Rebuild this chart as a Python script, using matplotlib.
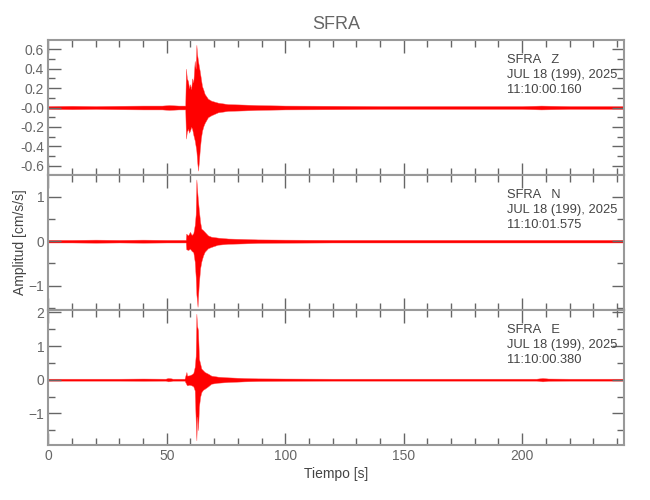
import matplotlib.pyplot as plt
from matplotlib.ticker import MultipleLocator

plt.rcParams["font.family"] = ["Liberation Sans", "DejaVu Sans"]

# envelope of each trace (time [s], upper, lower)
t_z = [0, 10, 20, 30, 40, 48, 51, 55, 57.8, 58.1, 58.5, 59.0, 59.4, 59.8, 60.3,
       60.7, 61.2, 61.8, 62.2, 62.5, 62.8, 63.2, 63.6, 63.9, 64.4, 64.9, 65.5,
       66.0, 67.4, 68.8, 71.6, 75.8, 82.8, 88.4, 100, 120, 140, 160, 180, 200,
       208, 220, 243]
up_z = [0.015, 0.018, 0.015, 0.018, 0.02, 0.02, 0.025, 0.02, 0.02, 0.40, 0.30,
        0.27, 0.20, 0.24, 0.19, 0.30, 0.26, 0.48, 0.40, 0.645, 0.55, 0.48, 0.42,
        0.38, 0.30, 0.22, 0.18, 0.14, 0.09, 0.07, 0.05, 0.035, 0.03, 0.025, 0.02,
        0.018, 0.015, 0.015, 0.015, 0.015, 0.02, 0.015, 0.015]
lo_z = [-0.015, -0.018, -0.015, -0.018, -0.02, -0.02, -0.025, -0.02, -0.02,
        -0.32, -0.25, -0.22, -0.26, -0.24, -0.20, -0.22, -0.28, -0.34, -0.40,
        -0.45, -0.55, -0.65, -0.55, -0.45, -0.32, -0.24, -0.19, -0.16, -0.10,
        -0.08, -0.05, -0.035, -0.03, -0.025, -0.02, -0.018, -0.015, -0.015,
        -0.015, -0.015, -0.02, -0.015, -0.015]

t_n = [0, 10, 20, 30, 40, 50, 55, 58.0, 58.2, 59.0, 59.8, 60.5, 61.2, 61.8,
       62.2, 62.5, 63.0, 63.5, 64.1, 64.6, 65.3, 66.0, 67.4, 68.8, 71.6, 75.8,
       82.8, 88.4, 100, 120, 140, 160, 180, 200, 220, 243]
up_n = [0.03, 0.03, 0.035, 0.03, 0.035, 0.03, 0.03, 0.03, 0.17, 0.13, 0.21,
        0.14, 0.18, 0.36, 0.60, 1.39, 1.03, 0.73, 0.43, 0.28, 0.25, 0.21, 0.13,
        0.10, 0.08, 0.06, 0.05, 0.04, 0.035, 0.03, 0.03, 0.03, 0.03, 0.03, 0.03,
        0.03]
lo_n = [-0.03, -0.03, -0.035, -0.03, -0.035, -0.03, -0.03, -0.03, -0.18, -0.20,
        -0.17, -0.22, -0.25, -0.46, -0.80, -1.20, -1.48, -0.99, -0.61, -0.46,
        -0.33, -0.24, -0.16, -0.13, -0.08, -0.06, -0.05, -0.04, -0.035, -0.03,
        -0.03, -0.03, -0.03, -0.03, -0.03, -0.03]

t_e = [0, 10, 20, 30, 40, 49.5, 50.5, 51.5, 52.5, 57.5, 58.3, 58.6, 59.5, 60.5,
       61.2, 61.8, 62.2, 62.5, 62.8, 63.2, 63.6, 64.1, 64.6, 65.3, 66.0, 67.4,
       68.8, 71.6, 75.8, 82.8, 88.4, 100, 120, 140, 160, 180, 200, 206, 208.6,
       211, 220, 243]
up_e = [0.03, 0.03, 0.03, 0.03, 0.035, 0.03, 0.05, 0.045, 0.03, 0.03, 0.23, 0.12,
        0.13, 0.16, 0.20, 0.38, 0.70, 1.96, 1.60, 1.47, 0.62, 0.48, 0.33, 0.28,
        0.23, 0.18, 0.12, 0.09, 0.07, 0.05, 0.04, 0.035, 0.03, 0.03, 0.03, 0.03,
        0.03, 0.03, 0.05, 0.035, 0.03, 0.03]
lo_e = [-0.03, -0.03, -0.03, -0.03, -0.035, -0.03, -0.05, -0.045, -0.03, -0.03,
        -0.14, -0.17, -0.15, -0.17, -0.20, -0.32, -1.20, -1.80, -1.10, -1.50,
        -0.80, -0.51, -0.37, -0.30, -0.27, -0.20, -0.12, -0.09, -0.07, -0.05,
        -0.04, -0.035, -0.03, -0.03, -0.03, -0.03, -0.03, -0.03, -0.05, -0.035,
        -0.03, -0.03]

components = ["Z", "N", "E"]
start_times = ["11:10:00.160", "11:10:01.575", "11:10:00.380"]
ylims = [(-0.695, 0.695), (-1.55, 1.49), (-1.94, 2.07)]
major_steps = [0.2, 1, 1]
minor_steps = [0.1, 0.5, 0.5]
traces = [(t_z, up_z, lo_z), (t_n, up_n, lo_n), (t_e, up_e, lo_e)]

grey = "#666666"
fig, axes = plt.subplots(3, 1, figsize=(6.5, 5), dpi=100, sharex=True)
fig.subplots_adjust(left=0.0743, right=0.96, top=0.92, bottom=0.11, hspace=0)

for i, ax in enumerate(axes):
    t, up, lo = traces[i]
    ax.fill_between(t, lo, up, color="red", lw=0.3, edgecolor="#ff5555")
    ax.set_xlim(0, 243)
    ax.set_ylim(*ylims[i])
    ax.xaxis.set_major_locator(MultipleLocator(50))
    ax.xaxis.set_minor_locator(MultipleLocator(10))
    ax.yaxis.set_major_locator(MultipleLocator(major_steps[i]))
    ax.yaxis.set_minor_locator(MultipleLocator(minor_steps[i]))
    ax.tick_params(which="both", direction="in", top=True, right=True,
                   color=grey, labelcolor=grey, labelsize=10, width=1, pad=3)
    ax.tick_params(which="major", length=9)
    ax.tick_params(which="minor", length=5)
    for sp in ax.spines.values():
        sp.set_color("#999999")
        sp.set_linewidth(1.5)
    ax.text(0.797, 0.895, "SFRA   %s\nJUL 18 (199), 2025\n%s" % (components[i], start_times[i]),
            transform=ax.transAxes, ha="left", va="top", fontsize=9.3,
            color="#444444", linespacing=1.3)

# the reference labels zero as -0.0 on the top panel
axes[0].yaxis.set_major_formatter(lambda v, p: "-0.0" if abs(v) < 1e-9 else "%.1f" % v)
axes[2].set_xlabel("Tiempo [s]", color="#444444", fontsize=10, labelpad=3)
axes[1].set_ylabel("Amplitud [cm/s/s]", color="#444444", fontsize=10)
axes[1].yaxis.set_label_coords(-0.037, 0.5)
axes[0].set_title("SFRA", color=grey, fontsize=13, pad=8)

fig.savefig("out.png")
